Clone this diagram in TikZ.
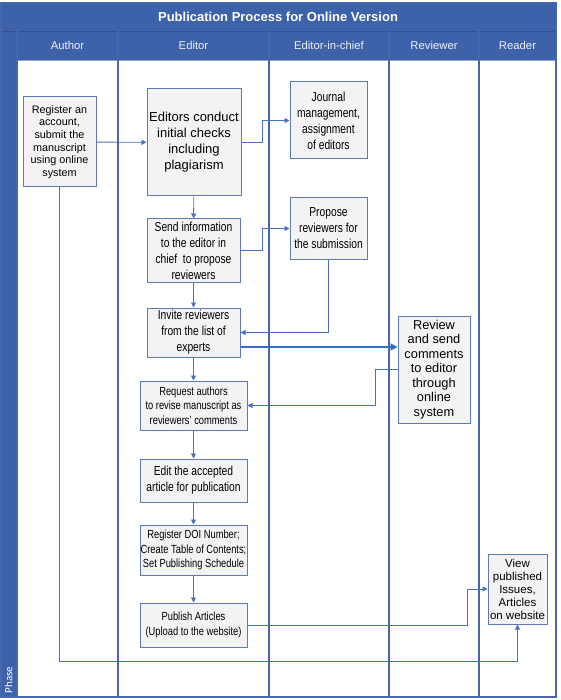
\documentclass[tikz,border=0pt]{standalone}
\usepackage{fontspec}
\setmainfont{Liberation Sans}
\newfontfamily\narrowfont[FakeStretch=0.79]{Liberation Sans}
\newfontfamily\phasefont{Carlito}
\usetikzlibrary{arrows.meta}
\definecolor{barblue}{RGB}{62,98,170}
\definecolor{laneline}{RGB}{72,102,172}
\definecolor{flow}{RGB}{74,114,192}
\definecolor{flowdark}{RGB}{50,110,200}
\definecolor{boxline}{RGB}{92,122,186}
\definecolor{boxfill}{RGB}{243,243,246}
\definecolor{headtext}{RGB}{236,240,248}
\begin{document}
\begin{tikzpicture}[x=1pt,y=-1pt,
  box/.style={draw=boxline, line width=1pt, fill=boxfill, align=center, inner sep=0pt, text=black},
  fA/.style={font=\fontsize{10.8}{12.7}\selectfont},
  fB/.style={font=\fontsize{13}{16}\selectfont},
  fN/.style={font=\fontsize{13}{16}\narrowfont},
  fS/.style={font=\fontsize{11.8}{14.5}\narrowfont},
  fR/.style={font=\fontsize{12.8}{14.5}\selectfont},
  fV/.style={font=\fontsize{11.5}{13}\selectfont},
  flowline/.style={draw=flow, line width=0.9pt, -{Triangle[length=5pt,width=5pt]}},
  lane/.style={draw=laneline, line width=1.2pt},
  headlbl/.style={text=headtext, font=\fontsize{11.3}{13}\selectfont}]
\useasboundingbox (0,0) rectangle (560,700);
\fill[white] (0,0) rectangle (560,700);
% bars
\fill[barblue] (1,3) rectangle (556,60);
\fill[barblue] (1,60) rectangle (17,697);
\draw[draw={rgb,255:red,50;green,80;blue,150}, line width=0.8pt] (1,31) -- (556,31);
\draw[draw={rgb,255:red,150;green,165;blue,195}, line width=1pt] (17,60.5) -- (556,60.5);
% lanes
\foreach \xx in {17,118,269,389,479} {\draw[lane] (\xx,31) -- (\xx,697);}
\draw[lane] (1,3) rectangle (556,697);
% title and headers
\node[text=white, font=\bfseries\fontsize{13}{15}\selectfont] (title) at (278,17) {Publication Process for Online Version};
\node[headlbl] (hA) at (67.5,45) {Author};
\node[headlbl] (hE) at (193.5,45) {Editor};
\node[headlbl] (hC) at (329,45) {Editor-in-chief};
\node[headlbl] (hR) at (434,45) {Reviewer};
\node[headlbl] (hD) at (517.5,45) {Reader};
\node[text=white, rotate=90, font=\phasefont\fontsize{11}{13}\selectfont] (phase) at (8.5,680) {Phase};
% boxes
\node[box, fA, minimum width=73pt, minimum height=90pt] (author) at (59.5,142) {Register an\\account,\\submit the\\manuscript\\using online\\system};
\node[box, fB, minimum width=94pt, minimum height=107pt] (ed1) at (194,142.5) {Editors conduct\\initial checks\\including\\plagiarism};
\node[box, fN, minimum width=77pt, minimum height=77pt] (jm) at (328.5,120.5) {Journal\\management,\\assignment\\of editors};
\node[box, fN, minimum width=93pt, minimum height=63pt] (send) at (193.5,250.5) {Send information\\to the editor in\\chief~ to propose\\reviewers};
\node[box, fN, minimum width=77pt, minimum height=61pt] (prop) at (328.5,228.5) {Propose\\reviewers for\\the submission};
\node[box, fN, minimum width=93pt, minimum height=49pt] (inv) at (193.5,332.5) {Invite reviewers\\from the list of\\experts};
\node[box, fR, minimum width=72pt, minimum height=107pt] (rev) at (434,369.5) {Review\\and send\\comments\\to editor\\through\\online\\system};
\node[box, fS, minimum width=107pt, minimum height=49pt] (req) at (193.5,405.5) {Request authors\\to revise manuscript as\\reviewers’ comments};
\node[box, fN, minimum width=107pt, minimum height=43pt] (edit) at (193.5,480.5) {Edit the accepted\\article for publication};
\node[box, fS, minimum width=107pt, minimum height=50pt] (reg) at (193.5,550) {Register DOI Number;\\Create Table of Contents;\\Set Publishing Schedule};
\node[box, fS, minimum width=107pt, minimum height=44pt] (pub) at (193.5,625) {Publish Articles\\(Upload to the website)};
\node[box, fV, minimum width=59pt, minimum height=70pt] (view) at (517.5,589) {View\\published\\Issues,\\Articles\\on website};
% connectors
\draw[flowline] (author) -- (ed1);
\draw[flowline] (ed1.east) -- ++(21,0) |- (jm.west);
\draw[flowline] (ed1) -- (send);
\draw[flowline] (send.east) -- ++(22,0) |- (prop.west);
\draw[flowline] (send) -- (inv);
\draw[flowline] (prop.south) |- (inv.east);
\coordinate (invout) at ([yshift=-14.5pt]inv.east);
\draw[draw=flowdark, line width=1.3pt, -{Triangle[length=7pt,width=7pt]}] (invout) -- (rev.west |- invout);
\draw[flowline] (rev.west) -- ++(-22,0) |- (req.east);
\draw[flowline] (inv) -- (req);
\draw[flowline] (req) -- (edit);
\draw[flowline] (edit) -- (reg);
\draw[flowline] (reg) -- (pub);
\draw[flowline] (pub.east) -- ++(220,0) |- (view.west);
\coordinate (corner) at (59.5,661);
\draw[flowline] (author.south) -- (corner) -| (view.south);
\end{tikzpicture}
\end{document}
